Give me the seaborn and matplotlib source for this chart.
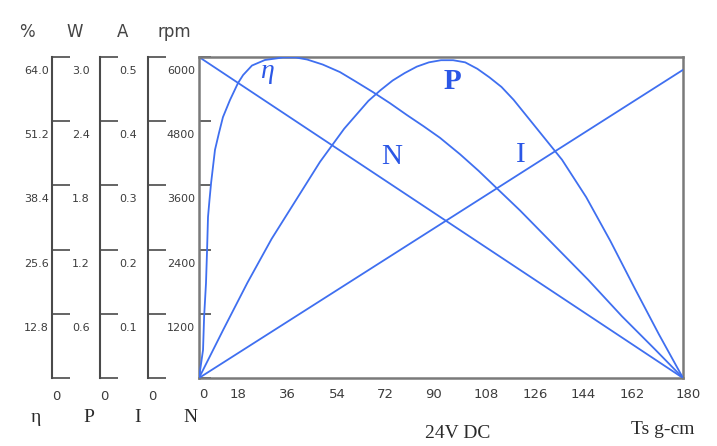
import matplotlib
matplotlib.use("Agg")
import matplotlib.pyplot as plt
import matplotlib.transforms as mtransforms
import seaborn as sns
import pandas as pd

# axis scales
torque_ticks = [0, 18, 36, 54, 72, 90, 108, 126, 144, 162, 180]
eff_ticks = [0, 12.8, 25.6, 38.4, 51.2, 64.0]
power_ticks = [0, 0.6, 1.2, 1.8, 2.4, 3.0]
current_ticks = [0, 0.1, 0.2, 0.3, 0.4, 0.5]
speed_ticks = [0, 1200, 2400, 3600, 4800, 6000]

# curves (torque in g-cm)
speed_torque = [0, 180]
speed_rpm = [6000, 0]

current_torque = [0, 180]
current_amp = [0, 0.48]

power_torque = [0, 9, 18, 27, 36, 45, 54, 63, 67.5, 72, 76.5, 81, 85.5, 90, 94.5, 99,
                103.5, 108, 112.5, 117, 126, 135, 144, 153, 162, 171, 180]
power_w = [0, 0.45, 0.89, 1.30, 1.66, 2.02, 2.33, 2.59, 2.69, 2.78, 2.85, 2.91, 2.95, 2.97,
           2.97, 2.95, 2.89, 2.81, 2.72, 2.60, 2.32, 2.04, 1.69, 1.28, 0.84, 0.41, 0]

eff_torque = [0, 1.5, 1.9, 2.6, 3.0, 3.35, 3.9, 4.5, 5.2, 5.95, 7.4, 8.9, 11.5, 14.5, 16.4,
              19.7, 24.5, 31.2, 36.0, 40.2, 46.0, 52.4, 58.0, 64.7, 71.0, 77.4, 83.5, 89.6,
              97.1, 104.0, 111.2, 119.4, 132.4, 144.7, 157.3, 169.6, 180]
eff_pct = [0, 5.6, 12.2, 18.9, 25.5, 32.1, 35.5, 38.9, 42.1, 45.5, 48.8, 52.0, 55.4, 58.8,
           60.4, 62.3, 63.4, 63.9, 63.9, 63.5, 62.5, 61.0, 59.2, 57.0, 54.8, 52.4, 50.2, 47.9,
           44.6, 41.3, 37.6, 33.4, 26.3, 19.6, 12.3, 5.7, 0]

LINE = "#3f6ff0"
TEXT_BLUE = "#2b57e6"
GRAY = "#3c3c3c"
PX = 72 / 100

sns.set_theme(style="white")
plt.rcParams["font.family"] = ["DejaVu Sans"]

fig = plt.figure(figsize=(7.17, 4.46), dpi=100)
main = fig.add_axes([199 / 717, 68 / 446, 484 / 717, 321 / 446])

ax_eff = main.twinx()
ax_pow = main.twinx()
ax_cur = main.twinx()
extra = [(ax_eff, eff_ticks, -0.3037), (ax_pow, power_ticks, -0.2045), (ax_cur, current_ticks, -0.1054)]

for a, ticks, pos in extra:
    for s in ["right", "top", "bottom"]:
        a.spines[s].set_visible(False)
    a.spines["left"].set_visible(True)
    a.spines["left"].set_position(("axes", pos))
    a.spines["left"].set_color("#4a4a4a")
    a.spines["left"].set_linewidth(1.5)
    a.yaxis.set_ticks_position("left")
    a.set_ylim(ticks[0], ticks[-1])
    a.set_yticks(ticks)
    a.set_yticklabels([])
    a.tick_params(axis="y", direction="in", length=13, width=1.2, color="#4a4a4a")

main.set_xlim(0, 180)
main.set_ylim(0, 6000)
main.set_xticks(torque_ticks)
main.set_yticks(speed_ticks)
main.set_xticklabels([])
main.set_yticklabels([])
main.tick_params(axis="x", direction="in", length=8, width=1.2, color="#4a4a4a")
main.tick_params(axis="y", direction="in", length=8.5, width=1.2, color="#4a4a4a")
for s in main.spines.values():
    s.set_color("#7a7a7a")
    s.set_linewidth(1.8)

lw = 1.3
sns.lineplot(x=speed_torque, y=speed_rpm, ax=main, color=LINE, linewidth=lw, estimator=None)
sns.lineplot(x=current_torque, y=current_amp, ax=ax_cur, color=LINE, linewidth=lw, estimator=None)
sns.lineplot(x=power_torque, y=power_w, ax=ax_pow, color=LINE, linewidth=lw, estimator=None)
sns.lineplot(x=eff_torque, y=eff_pct, ax=ax_eff, color=LINE, linewidth=lw, estimator=None)


def put(ax_y, text, xa, yv, dx, dy, **kw):
    trans = mtransforms.blended_transform_factory(main.transAxes, ax_y.transData)
    main.annotate(text, xy=(xa, yv), xycoords=trans, xytext=(dx * PX, dy * PX),
                  textcoords="offset points", annotation_clip=False, **kw)


# y tick labels for each scale
cols = [(ax_eff, eff_ticks, -0.3037, -3, "{:.1f}"), (ax_pow, power_ticks, -0.2045, -10, "{:.1f}"),
        (ax_cur, current_ticks, -0.1054, -11, "{:.1f}"), (main, speed_ticks, 0.0, -4, "{:d}")]
for a, ticks, pos, dx, fmt in cols:
    for t in ticks[1:]:
        put(a, fmt.format(t), pos, t, dx, -14, ha="right", va="center", fontsize=8, color=GRAY)
    if a is not main:
        put(a, "0", pos, 0, 0, -18, ha="left", va="center", fontsize=9.5, color=GRAY)

# x tick labels
x_shift = [4, -9, -8, -7, -7, -7, -3, -3, -3, -2, 5]
for t, sh in zip(torque_ticks, x_shift):
    main.annotate(str(t), xy=(t, 0), xycoords=("data", "axes fraction"), xytext=(sh * PX, -17 * PX),
                  textcoords="offset points", ha="center", va="center", fontsize=9.5, color=GRAY,
                  annotation_clip=False)

# unit headers and curve names under the scales
for (a, _, pos, _, _), unit in zip(cols, ["%", "W", "A", "rpm"]):
    put(main, unit, pos, 6000, -25, 25, ha="center", va="center", fontsize=12, color="#444444")
for pos, name, dx in [(-0.3037, "η", -16), (-0.2045, "P", -11), (-0.1054, "I", -10), (0.0, "N", -9)]:
    put(main, name, pos, 0, dx, -40, ha="center", va="center", fontsize=14,
        family="Liberation Serif", color="#2a2a2a")

main.annotate("24V DC", xy=(0.534, 0), xycoords="axes fraction", xytext=(0, -55 * PX),
              textcoords="offset points", ha="center", va="center", fontsize=14,
              family="Liberation Serif", color="#2a2a2a", annotation_clip=False)
main.annotate("Ts g-cm", xy=(0.958, 0), xycoords="axes fraction", xytext=(0, -52 * PX),
              textcoords="offset points", ha="center", va="center", fontsize=14,
              family="Liberation Serif", color="#2a2a2a", annotation_clip=False)

# curve names inside the plot
main.text(71.8, 4131, "N", fontsize=21, family="Liberation Serif", color=TEXT_BLUE, ha="center", va="center")
main.text(94.1, 5533, "P", fontsize=21, family="Liberation Serif", weight="bold", color=TEXT_BLUE,
          ha="center", va="center")
main.text(119.8, 4168, "I", fontsize=21, family="Liberation Serif", color=TEXT_BLUE, ha="center", va="center")
main.text(25.3, 5720, "η", fontsize=20, family="Liberation Serif", style="italic", color=TEXT_BLUE,
          ha="center", va="center")

fig.savefig("out.png", dpi=100)
